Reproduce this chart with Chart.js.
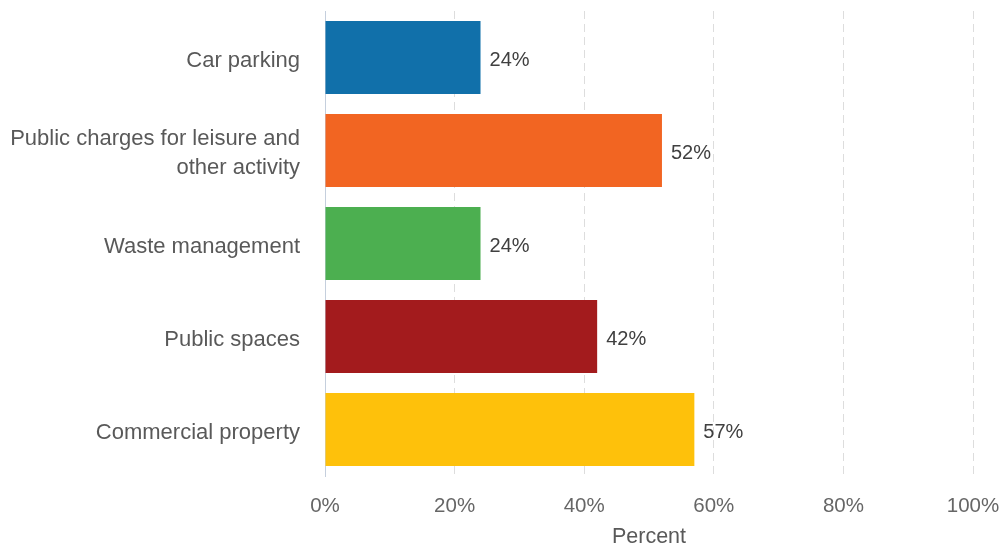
<!DOCTYPE html>
<html>
<head>
<meta charset="utf-8">
<script src="https://cdn.jsdelivr.net/npm/chart.js@4/dist/chart.umd.min.js"></script>
<style>
  html, body { margin: 0; padding: 0; background: #fff; }
  #wrap { width: 1003px; height: 546px; }
</style>
</head>
<body>
<div id="wrap"><canvas id="incomeChart"></canvas></div>
<script>
const categories = [
    'Car parking',
    ['Public charges for leisure and', 'other activity'],
    'Waste management',
    'Public spaces',
    'Commercial property'
];
const values = [24, 52, 24, 42, 57];
const barColors = ['#1170aa', '#f26522', '#4caf50', '#a31b1d', '#fec10b'];
const xTicks = [0, 20, 40, 60, 80, 100];

const FONT = '"Liberation Sans", Arial, sans-serif';

// draws the "24%" style labels at the end of each bar
const barLabels = {
    id: 'barLabels',
    afterDatasetsDraw(chart) {
        const ctx = chart.ctx;
        const meta = chart.getDatasetMeta(0);
        ctx.save();
        ctx.font = '20px ' + FONT;
        ctx.fillStyle = '#404040';
        ctx.textAlign = 'left';
        ctx.textBaseline = 'middle';
        meta.data.forEach((bar, i) => {
            ctx.fillText(values[i] + '%', bar.x + 9, bar.y + 3);
        });
        ctx.restore();
    }
};

const ctx = document.getElementById('incomeChart').getContext('2d');
const myChart = new Chart(ctx, {
    type: 'bar',
    data: {
        labels: categories,
        datasets: [{
            label: 'Percent',
            data: values,
            backgroundColor: barColors,
            borderWidth: 0,
            barPercentage: 0.785,
            categoryPercentage: 1
        }]
    },
    plugins: [barLabels],
    options: {
        indexAxis: 'y',
        responsive: true,
        maintainAspectRatio: false,
        animation: false,
        layout: { padding: { top: 11, right: 30, left: 0, bottom: 0 } },
        plugins: {
            legend: { display: false },
            tooltip: { enabled: false }
        },
        scales: {
            x: {
                min: 0,
                max: 100,
                afterBuildTicks: scale => {
                    scale.ticks = xTicks.map(v => ({ value: v }));
                },
                afterFit: scale => {
                    scale.height = 70;
                    scale.paddingLeft = 0;
                    scale.paddingRight = 0;
                },
                ticks: {
                    callback: v => v + '%',
                    color: '#666666',
                    padding: 18,
                    font: { size: 20.5, family: FONT }
                },
                grid: {
                    color: ctx => ctx.tick && ctx.tick.value === 0 ? 'rgba(0,0,0,0)' : '#dddddd',
                    drawTicks: false,
                    lineWidth: 1
                },
                border: { display: false, dash: [8, 5] },
                title: {
                    display: true,
                    text: 'Percent',
                    color: '#595959',
                    padding: { top: 0, bottom: 0 },
                    font: { size: 21.5, family: FONT, lineHeight: 0.8 }
                }
            },
            y: {
                afterFit: scale => {
                    scale.width = 325;
                    scale.paddingTop = 0;
                    scale.paddingBottom = 0;
                },
                ticks: {
                    color: '#595959',
                    padding: 25,
                    labelOffset: 3,
                    font: { size: 22, family: FONT, lineHeight: 1.33 }
                },
                grid: { display: false, drawTicks: false },
                border: { display: true, color: '#c5cfdd', width: 1 }
            }
        }
    }
});
</script>
</body>
</html>
